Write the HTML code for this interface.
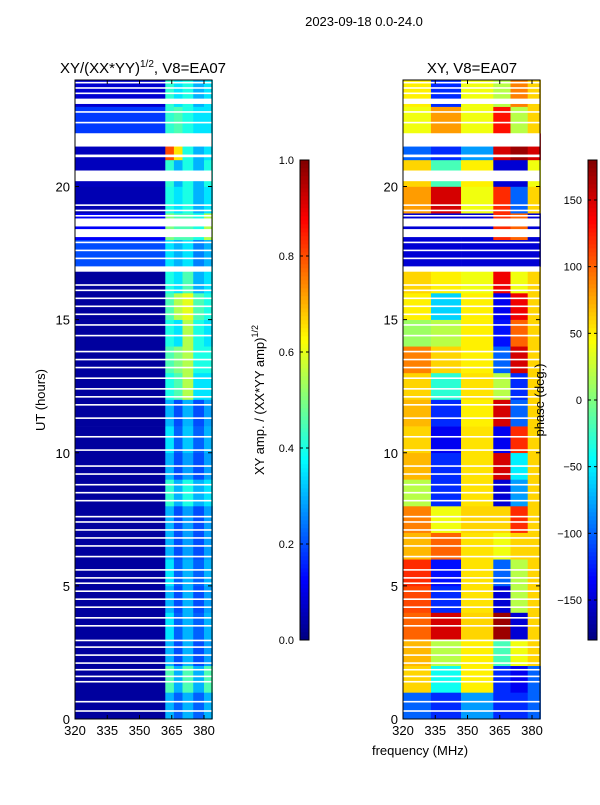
<!DOCTYPE html>
<html><head><meta charset="utf-8"><style>
body{margin:0;background:#fff;font-family:"Liberation Sans","DejaVu Sans",sans-serif}
svg text{font-family:"Liberation Sans","DejaVu Sans",sans-serif}
</style></head><body>
<svg id="fig" width="600" height="800" xmlns="http://www.w3.org/2000/svg">
<text x="364" y="26" font-size="13" text-anchor="middle">2023-09-18 0.0-24.0</text>
<text x="143" y="73" font-size="15" text-anchor="middle">XY/(XX*YY)<tspan font-size="10" dy="-6">1/2</tspan><tspan dy="6">, V8=EA07</tspan></text>
<text x="472" y="73" font-size="15" text-anchor="middle">XY, V8=EA07</text>
<text x="45" y="400" font-size="13" text-anchor="middle" transform="rotate(-90 45 400)">UT (hours)</text>
<text x="420" y="755" font-size="13" text-anchor="middle">frequency (MHz)</text>
<text x="264" y="400" font-size="13" text-anchor="middle" transform="rotate(-90 264 400)">XY amp. / (XX*YY amp)<tspan font-size="9" dy="-6">1/2</tspan></text>
<g id="layer"></g>
<text x="544" y="400" font-size="13" text-anchor="middle" transform="rotate(-90 544 400)">phase (deg.)</text>
</svg>
<script>
const hours=[0,1,2,3,4,5,6,7,8,9,10,11,12,13,14,15,16,17,18,19,20,21,22,23];
const ampEdges=[320,362,366,370,375,380,384];
const ampVals=[
[0.03,0.3,0.22,0.3,0.22,0.3],[0.03,0.45,0.3,0.45,0.3,0.45],[0.03,0.3,0.2,0.3,0.2,0.28],[0.03,0.35,0.22,0.3,0.22,0.3],
[0.03,0.3,0.2,0.3,0.2,0.28],[0.03,0.35,0.22,0.3,0.22,0.3],[0.03,0.3,0.2,0.28,0.2,0.28],[0.03,0.3,0.2,0.28,0.2,0.28],
[0.03,0.42,0.3,0.4,0.3,0.35],[0.03,0.3,0.2,0.28,0.2,0.28],[0.03,0.35,0.22,0.32,0.22,0.3],[0.03,0.3,0.2,0.3,0.2,0.28],
[0.03,0.4,0.45,0.55,0.35,0.35],[0.03,0.45,0.5,0.55,0.4,0.4],[0.03,0.4,0.35,0.55,0.4,0.35],[0.03,0.45,0.55,0.6,0.45,0.4],
[0.03,0.4,0.35,0.45,0.3,0.35],[0.2,0.35,0.3,0.35,0.25,0.3],[0.12,0.5,0.45,0.45,0.4,0.55],[0.05,0.4,0.35,0.4,0.3,0.35],
[0.06,0.42,0.3,0.4,0.3,0.4],[0.06,0.8,0.65,0.4,0.3,0.35],[0.18,0.42,0.45,0.4,0.35,0.35],[0.08,0.42,0.35,0.4,0.3,0.35]];
const phEdges=[320,333,347,362,370,378,384];
const phVals=[
[-100,-120,-80,-120,-120,-100],[60,-40,50,-120,-140,-100],[70,20,50,-20,40,60],[100,150,60,170,-150,60],
[110,-120,55,-150,20,60],[120,-130,55,-100,20,60],[70,100,55,40,60,60],[90,40,60,60,120,60],
[20,-120,55,-150,-80,60],[70,-120,55,150,-50,60],[60,-140,55,-140,120,60],[70,-120,50,150,-100,60],
[60,-30,55,20,-120,60],[90,60,50,-100,150,60],[10,20,50,-130,100,60],[50,-60,50,-140,140,60],
[60,50,40,140,40,60],[-150,-150,-150,-150,-150,-150],[-150,-150,-150,120,100,-150],[80,150,40,120,-100,60],
[60,-20,50,-150,-150,40],[-100,-120,-80,150,170,150],[40,80,40,130,20,60],[50,-120,40,20,90,60]];
const gapStart=[23.1,21.5,21.1,20.2,18.5,18.1,16.8];
const gapEnd=[23.3,22.0,21.2,20.6,18.8,18.4,17.0];
const thinLines=[0.3,0.65,1.4,1.6,1.85,2.1,2.4,2.7,2.95,3.5,3.8,4.2,4.5,4.8,5.1,5.3,5.6,6.1,6.5,6.8,7.1,7.4,7.6,8.2,8.5,8.8,9.2,9.5,10.1,10.6,11.3,11.8,12.1,12.4,12.8,13.2,13.5,13.8,14.4,14.8,15.2,15.5,15.8,16.1,16.3,17.3,17.6,17.9,18.9,19.1,19.3,22.4,22.8,23.5,23.7,23.9];
const xTicks=[320,335,350,365,380];
const yTicks=[0,5,10,15,20];
const ampTicks=[0,0.2,0.4,0.6,0.8,1.0];
const phTicks=[-150,-100,-50,0,50,100,150];

const NS="http://www.w3.org/2000/svg";
const L=document.getElementById('layer');
function mk(t,a,p){const e=document.createElementNS(NS,t);for(const k in a)e.setAttribute(k,a[k]);(p||L).appendChild(e);return e;}
function jet(v){v=Math.max(0,Math.min(1,v));const f=x=>Math.max(0,Math.min(1,1.5-Math.abs(4*v-x)));return `rgb(${Math.round(255*f(3))},${Math.round(255*f(2))},${Math.round(255*f(1))})`;}
const yS=h=>719-h*(639/24);
const panels=[{x0:75,edges:ampEdges,vals:ampVals,norm:v=>v,name:'amp'},{x0:403,edges:phEdges,vals:phVals,norm:v=>(v+180)/360,name:'phase'}];
const xS=(x0,f)=>x0+(f-320)*(129/60);
panels.forEach(p=>{
  const g=mk('g',{});
  
  
  hours.forEach((h,i)=>{
    for(let c=0;c<p.edges.length-1;c++){
      const x1=xS(p.x0,p.edges[c]),x2=xS(p.x0,p.edges[c+1]);
      const r=mk('rect',{x:x1,y:yS(h+1),width:x2-x1+0.3,height:yS(h)-yS(h+1)+0.3,fill:jet(p.norm(p.vals[i][c]))},g);
      
      
    }
  });
  gapStart.forEach((s,i)=>{mk('rect',{x:p.x0,y:yS(gapEnd[i]),width:137,height:yS(s)-yS(gapEnd[i]),fill:'#fff'},g);});
  thinLines.forEach(t=>{mk('rect',{x:p.x0,y:yS(t)-0.8,width:137,height:1.6,fill:'#fff'},g);});
  const ax=mk('rect',{x:p.x0,y:80,width:137,height:639,fill:'none',stroke:'#000','stroke-width':1});
  
  
  xTicks.forEach(t=>{const x=xS(p.x0,t);mk('line',{x1:x,x2:x,y1:719,y2:715,stroke:'#000'});mk('line',{x1:x,x2:x,y1:80,y2:84,stroke:'#000'});
    const tx=mk('text',{x:x,y:735,'font-size':13,'text-anchor':'middle'});tx.textContent=t;
    
    });
  yTicks.forEach(t=>{const y=yS(t);mk('line',{x1:p.x0,x2:p.x0+4,y1:y,y2:y,stroke:'#000'});mk('line',{x1:p.x0+137,x2:p.x0+133,y1:y,y2:y,stroke:'#000'});
    const tx=mk('text',{x:p.x0-5,y:y+5,'font-size':13,'text-anchor':'end'});tx.textContent=t;
    
    });
});
[{x:300,ticks:ampTicks,lo:0,hi:1,name:'amp-colorbar'},{x:588,ticks:phTicks,lo:-180,hi:180,name:'phase-colorbar'}].forEach(cb=>{
  const g=mk('g',{});
  
  
  for(let i=0;i<120;i++){mk('rect',{x:cb.x,y:640-(i+1)*4,width:9,height:4.3,fill:jet((i+0.5)/120)},g);}
  mk('rect',{x:cb.x,y:160,width:9,height:480,fill:'none',stroke:'#000'},g);
  cb.ticks.forEach(t=>{const y=640-(t-cb.lo)/(cb.hi-cb.lo)*480;
    mk('line',{x1:cb.x,x2:cb.x+3,y1:y,y2:y,stroke:'#000'},g);mk('line',{x1:cb.x+9,x2:cb.x+6,y1:y,y2:y,stroke:'#000'},g);
    const tx=mk('text',{x:cb.x-6,y:y+4,'font-size':11,'text-anchor':'end'},g);
    tx.textContent=cb.name=='amp-colorbar'?t.toFixed(1):(t<0?'\u2212'+(-t):t);
    
    });
});
</script>
</body></html>
